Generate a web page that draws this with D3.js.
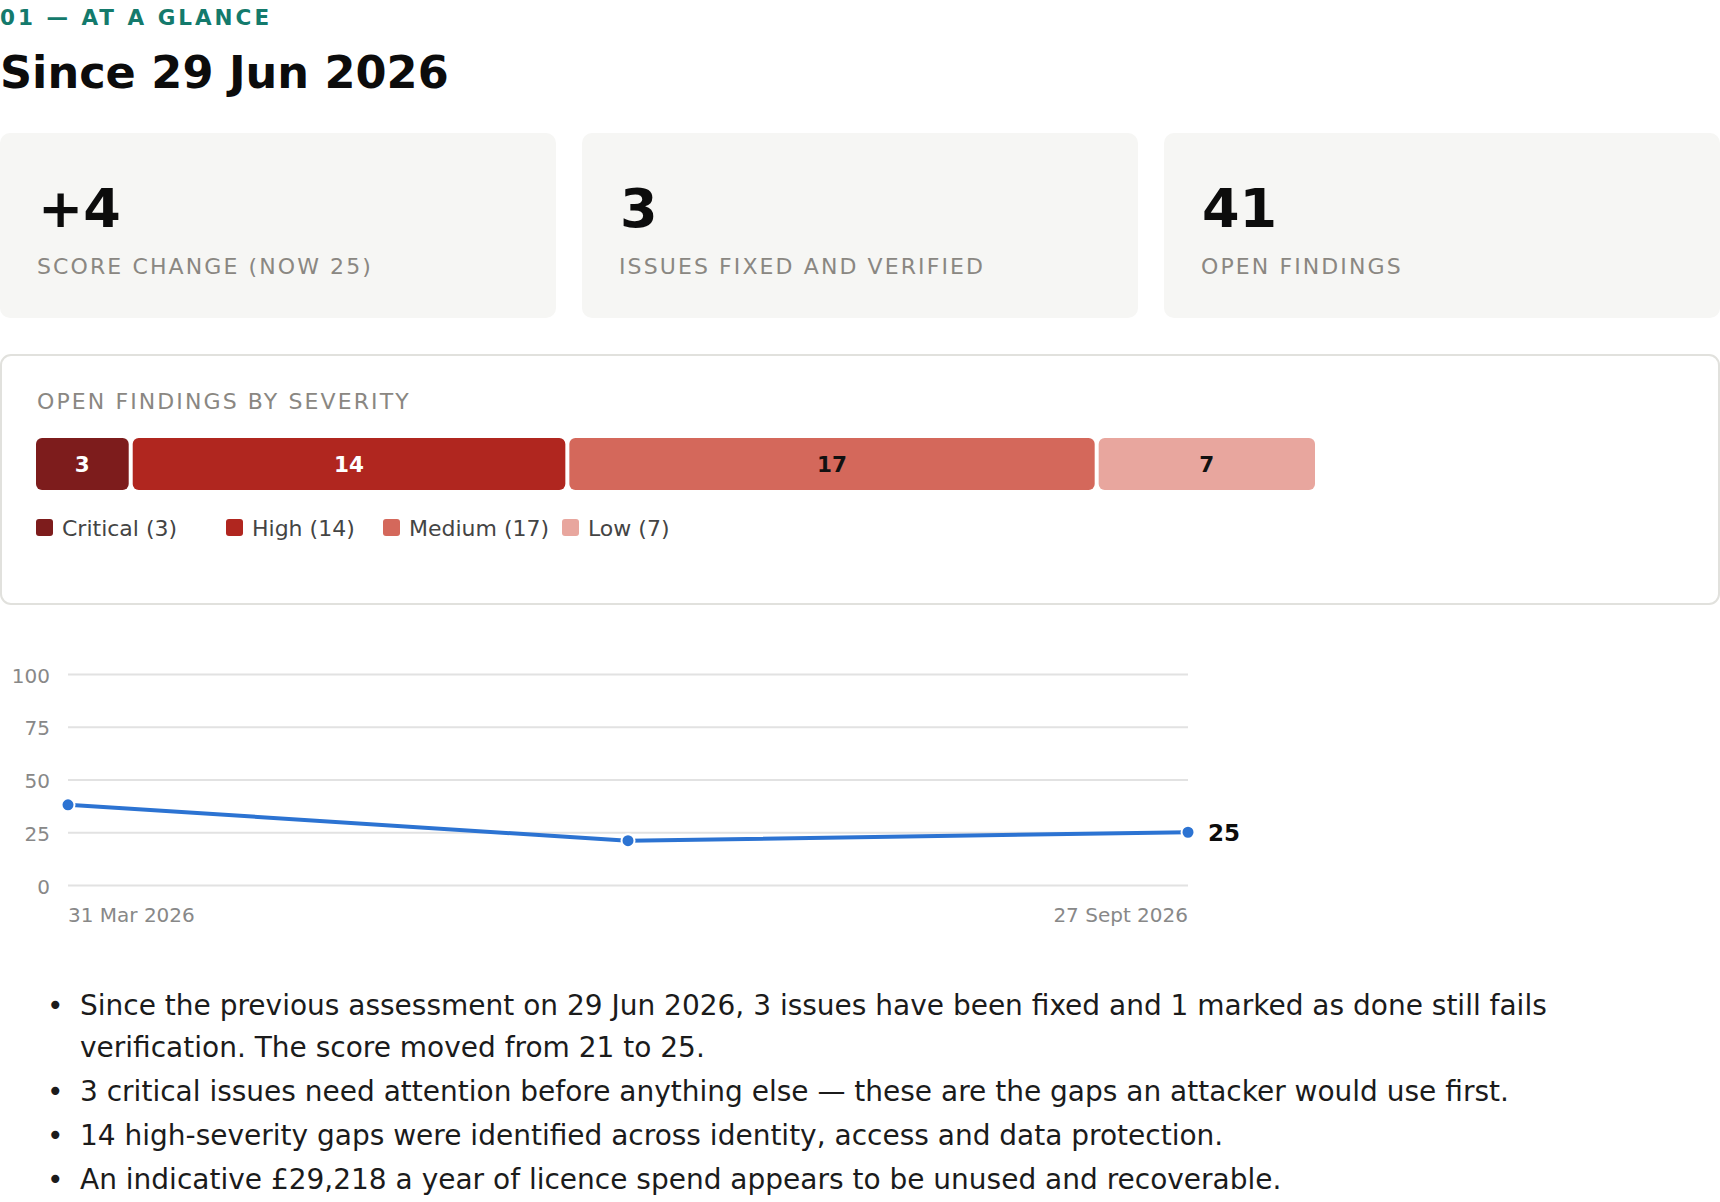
<!DOCTYPE html>
<html>
<head>
<meta charset="utf-8">
<script src="https://cdn.jsdelivr.net/npm/d3@7"></script>
<style>
  body { margin: 0; background: #fff; font-family: "DejaVu Sans", sans-serif; }
  #page { position: relative; width: 1720px; height: 1202px; overflow: hidden; }
  #page svg { position: absolute; left: 0; top: 0; }
  ul.notes { position: absolute; left: 0; top: 985px; width: 1680px; margin: 0; padding-left: 80px;
             box-sizing: border-box; list-style: none;
             font-size: 28px; line-height: 42px; color: #1b1b1b; }
  ul.notes li { margin-bottom: 2px; position: relative; }
  ul.notes li::before { content: "•"; position: absolute; left: -33px; top: 0; }
</style>
</head>
<body>
<div id="page"></div>
<script>
// header + summary cards
var eyebrow = "01 — AT A GLANCE";
var heading = "Since 29 Jun 2026";
var cardValues = ["+4", "3", "41"];
var cardLabels = ["SCORE CHANGE (NOW 25)", "ISSUES FIXED AND VERIFIED", "OPEN FINDINGS"];

// open findings by severity
var severities = ["Critical", "High", "Medium", "Low"];
var severityCounts = [3, 14, 17, 7];
var severityColors = ["#7d1c1c", "#b0261f", "#d4685b", "#e8a69e"];
var severityText = ["#fff", "#fff", "#111", "#111"];

// score history
var scoreDates = ["2026-03-31", "2026-06-29", "2026-09-27"];
var scoreValues = [38, 21, 25];
var yTicks = [0, 25, 50, 75, 100];

var notes = [
  "Since the previous assessment on 29 Jun 2026, 3 issues have been fixed and 1 marked as done still fails verification. The score moved from 21 to 25.",
  "3 critical issues need attention before anything else — these are the gaps an attacker would use first.",
  "14 high-severity gaps were identified across identity, access and data protection.",
  "An indicative £29,218 a year of licence spend appears to be unused and recoverable."
];

var W = 1720, H = 1202;
var page = d3.select("#page");
var svg = page.append("svg").attr("width", W).attr("height", H);

/* header */
svg.append("text").attr("x", 0).attr("y", 25)
  .style("font-size", "21.5px").style("font-weight", "bold").style("letter-spacing", "3px")
  .attr("fill", "#147a6c").text(eyebrow);
svg.append("text").attr("x", 0).attr("y", 88)
  .style("font-size", "44.6px").style("font-weight", "bold")
  .attr("fill", "#0c0c0c").text(heading);

/* cards */
var cardGap = 26, cardW = (W - 2 * cardGap) / 3;
var cards = svg.selectAll("g.card").data(cardValues).join("g")
  .attr("class", "card")
  .attr("transform", (d, i) => "translate(" + i * (cardW + cardGap) + ",133)");
cards.append("rect").attr("width", cardW).attr("height", 185).attr("rx", 10).attr("fill", "#f6f6f4");
cards.append("text").attr("x", 38).attr("y", 94)
  .style("font-size", "54px").style("font-weight", "bold").attr("fill", "#0c0c0c")
  .text(d => d);
cards.append("text").attr("x", 37).attr("y", 141)
  .style("font-size", "22px").style("letter-spacing", "2.1px").attr("fill", "#8a8782")
  .text((d, i) => cardLabels[i]);

/* severity panel */
var panel = svg.append("g").attr("transform", "translate(0,354)");
panel.append("rect").attr("x", 1).attr("y", 1).attr("width", W - 2).attr("height", 249)
  .attr("rx", 10).attr("fill", "#fff").attr("stroke", "#e1e1dd").attr("stroke-width", 2);
panel.append("text").attr("x", 37).attr("y", 55)
  .style("font-size", "22px").style("letter-spacing", "2.1px").attr("fill", "#8a8782")
  .text("OPEN FINDINGS BY SEVERITY");

var total = d3.sum(severityCounts);
var segGap = 4;
var bx = d3.scaleLinear().domain([0, total]).range([0, 1267]);
var starts = d3.cumsum([0].concat(severityCounts.slice(0, -1)));
var segs = severities.map((s, i) => ({ name: s, value: severityCounts[i], start: starts[i], i: i }));

var bar = panel.append("g").attr("transform", "translate(36,84)");
bar.selectAll("rect").data(segs).join("rect")
  .attr("x", d => bx(d.start) + d.i * segGap)
  .attr("width", d => bx(d.value))
  .attr("height", 52).attr("rx", 6)
  .attr("fill", d => severityColors[d.i]);
bar.selectAll("text").data(segs).join("text")
  .attr("x", d => bx(d.start) + d.i * segGap + bx(d.value) / 2)
  .attr("y", 26).attr("dy", "0.36em").attr("text-anchor", "middle")
  .style("font-size", "21.5px").style("font-weight", "bold")
  .attr("fill", d => severityText[d.i])
  .text(d => d.value);

// legend: item spacing from an estimated label width (chars * half the font size)
var legend = panel.append("g").attr("transform", "translate(36,174)");
var lx = 0;
segs.forEach(function(d) {
  var label = d.name + " (" + d.value + ")";
  var item = legend.append("g").attr("transform", "translate(" + lx + ",0)");
  item.append("rect").attr("y", -9).attr("width", 17).attr("height", 17).attr("rx", 3)
    .attr("fill", severityColors[d.i]);
  item.append("text").attr("x", 26).attr("y", 0).attr("dy", "0.36em")
    .style("font-size", "22px").attr("fill", "#444")
    .text(label);
  lx += label.length * 11 + 58;
});

/* score line */
var parse = d3.timeParse("%Y-%m-%d");
var pts = scoreDates.map((d, i) => ({ date: parse(d), value: scoreValues[i] }));
var x = d3.scaleTime().domain(d3.extent(pts, d => d.date)).range([68, 1188]);
var y = d3.scaleLinear().domain([0, 100]).range([885, 674]);

var chart = svg.append("g");
var yAxis = chart.append("g").attr("transform", "translate(68,0)")
  .call(d3.axisLeft(y).tickValues(yTicks).tickSize(-(1188 - 68)).tickPadding(18));
yAxis.select(".domain").remove();
yAxis.selectAll(".tick line").attr("stroke", "#e2e2e2").attr("stroke-width", 2);
yAxis.selectAll(".tick text").attr("fill", "#888").style("font-size", "20px")
  .style("font-family", "DejaVu Sans").attr("dy", "0.4em");

var fmt = d3.timeFormat("%-d %b %Y");
var xLabels = [pts[0], pts[pts.length - 1]];
chart.selectAll("text.xlab").data(xLabels).join("text")
  .attr("class", "xlab")
  .attr("x", d => x(d.date)).attr("y", 922)
  .attr("text-anchor", (d, i) => i === 0 ? "start" : "end")
  .style("font-size", "20px").attr("fill", "#888")
  .text(d => fmt(d.date).replace("Sep ", "Sept "));

chart.append("path").datum(pts)
  .attr("fill", "none").attr("stroke", "#2c73d2").attr("stroke-width", 4)
  .attr("stroke-linejoin", "round")
  .attr("d", d3.line().x(d => x(d.date)).y(d => y(d.value)));
chart.selectAll("circle").data(pts).join("circle")
  .attr("cx", d => x(d.date)).attr("cy", d => y(d.value)).attr("r", 6.5)
  .attr("fill", "#2c73d2").attr("stroke", "#fff").attr("stroke-width", 2);

var last = pts[pts.length - 1];
chart.append("text")
  .attr("x", x(last.date) + 20).attr("y", y(last.value)).attr("dy", "0.36em")
  .style("font-size", "23px").style("font-weight", "bold").attr("fill", "#0c0c0c")
  .text(last.value);

/* notes */
page.append("ul").attr("class", "notes")
  .selectAll("li").data(notes).join("li").text(d => d);
</script>
</body>
</html>
